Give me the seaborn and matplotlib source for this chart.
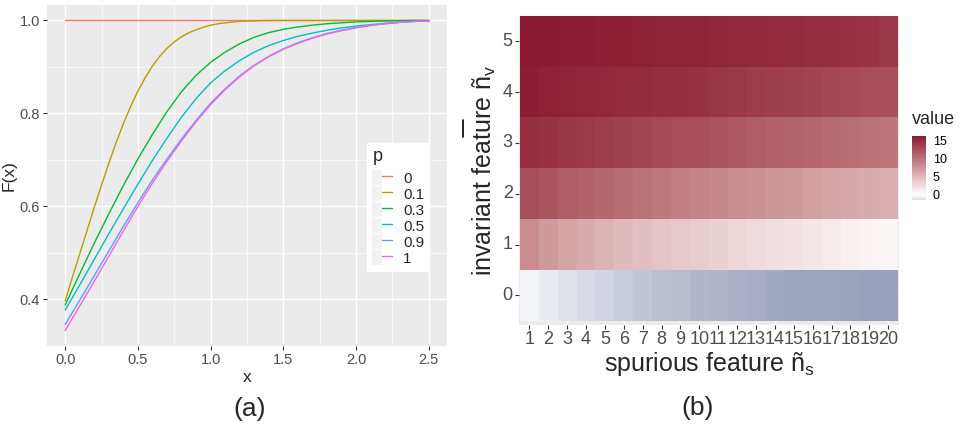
import numpy as np
import pandas as pd
import matplotlib
matplotlib.use("Agg")
import matplotlib.pyplot as plt
import seaborn as sns
from matplotlib.colors import LinearSegmentedColormap
from matplotlib.ticker import MultipleLocator
from matplotlib.lines import Line2D
from matplotlib.patches import Patch
from matplotlib.legend_handler import HandlerTuple

# ------------------------------
# Data: panel (a), F(x) curves for each p
# ------------------------------
x_vals = [0.0, 0.1, 0.2, 0.3, 0.4, 0.5, 0.6, 0.7, 0.8, 0.9, 1.0, 1.1, 1.2,
          1.3, 1.4, 1.5, 1.6, 1.7, 1.8, 1.9, 2.0, 2.1, 2.2, 2.3, 2.4, 2.5]
x_fine = [0.0, 0.05, 0.1, 0.15, 0.2, 0.25, 0.3, 0.35, 0.4, 0.45, 0.5, 0.55,
          0.6, 0.65, 0.7, 0.75, 0.8, 0.85, 0.9, 0.95, 1.0, 1.05, 1.1, 1.15,
          1.2, 1.25, 1.3, 1.35, 1.4, 1.5, 1.75, 2.0, 2.25, 2.5]
p_labels = ["0", "0.1", "0.3", "0.5", "0.9", "1"]
F_p0 = [1.0, 1.0, 1.0, 1.0, 1.0, 1.0, 1.0, 1.0, 1.0, 1.0, 1.0, 1.0, 1.0,
        1.0, 1.0, 1.0, 1.0, 1.0, 1.0, 1.0, 1.0, 1.0, 1.0, 1.0, 1.0, 1.0]
F_p01 = [0.397, 0.448, 0.498, 0.548, 0.598, 0.646, 0.693, 0.737, 0.778, 0.815,
         0.848, 0.877, 0.902, 0.923, 0.940, 0.954, 0.965, 0.9735, 0.980,
         0.9855, 0.990, 0.9928, 0.995, 0.9967, 0.998, 0.9987, 0.999, 0.9996,
         1.0, 1.0, 1.0, 1.0, 1.0, 1.0]
F_p03 = [0.388, 0.455, 0.521, 0.584, 0.645, 0.702, 0.755, 0.804, 0.847, 0.882,
         0.910, 0.932, 0.950, 0.964, 0.974, 0.981, 0.986, 0.990, 0.993, 0.995,
         0.997, 0.998, 0.999, 0.9995, 1.0, 1.0]
F_p05 = [0.377, 0.431, 0.486, 0.541, 0.595, 0.648, 0.699, 0.747, 0.792, 0.832,
         0.866, 0.892, 0.914, 0.932, 0.946, 0.957, 0.966, 0.973, 0.979, 0.984,
         0.988, 0.991, 0.994, 0.996, 0.998, 0.999]
F_p09 = [0.346, 0.398, 0.451, 0.504, 0.557, 0.608, 0.657, 0.702, 0.745, 0.785,
         0.822, 0.853, 0.881, 0.904, 0.923, 0.939, 0.952, 0.963, 0.972, 0.979,
         0.985, 0.990, 0.993, 0.996, 0.998, 0.999]
F_p1 = [0.333, 0.386, 0.439, 0.493, 0.547, 0.600, 0.650, 0.697, 0.741, 0.782,
        0.819, 0.851, 0.879, 0.903, 0.922, 0.938, 0.951, 0.962, 0.971, 0.978,
        0.984, 0.989, 0.993, 0.996, 0.998, 0.999]
line_colors = ["#F8766D", "#B79F00", "#00BA38", "#00BFC4", "#619CFF", "#F564E3"]

# ------------------------------
# Data: panel (b), heatmap values (rows = invariant feature, cols = spurious)
# ------------------------------
spurious = list(range(1, 21))
invariant = [5, 4, 3, 2, 1, 0]
row_v5 = [16.3, 16.2, 16.1, 16.0, 15.9, 15.9, 15.8, 15.7, 15.7, 15.6,
          15.5, 15.4, 15.3, 15.2, 15.0, 14.9, 14.8, 14.6, 14.5, 14.3]
row_v4 = [16.0, 15.8, 15.7, 15.5, 15.4, 15.2, 15.1, 14.9, 14.8, 14.6,
          14.4, 14.2, 14.0, 13.8, 13.6, 13.4, 13.2, 13.0, 12.8, 12.6]
row_v3 = [14.9, 14.6, 14.4, 14.1, 13.8, 13.6, 13.3, 13.0, 12.8, 12.5,
          12.2, 12.0, 11.7, 11.4, 11.1, 10.9, 10.6, 10.4, 10.1, 9.9]
row_v2 = [12.7, 12.2, 11.7, 11.3, 10.9, 10.5, 10.1, 9.7, 9.3, 8.9,
          8.6, 8.2, 7.9, 7.5, 7.2, 6.9, 6.6, 6.3, 6.0, 5.8]
row_v1 = [8.2, 7.2, 6.6, 6.0, 5.5, 5.0, 4.6, 4.3, 4.0, 3.7,
          3.3, 3.0, 2.7, 2.4, 2.1, 1.8, 1.5, 1.2, 0.9, 0.6]
row_v0 = [-0.4, -0.8, -1.2, -1.5, -1.8, -2.1, -2.4, -2.6, -2.8, -3.0,
          -3.1, -3.3, -3.4, -3.6, -3.7, -3.8, -3.8, -3.9, -4.0, -4.0]
cbar_ticks = [0, 5, 10, 15]

# ------------------------------
# Style
# ------------------------------
sns.set_theme(style="darkgrid", rc={"axes.facecolor": "#EBEBEB",
                                    "grid.color": "white"})
plt.rcParams["font.family"] = ["Liberation Sans", "DejaVu Sans"]
plt.rcParams["mathtext.fontset"] = "custom"
plt.rcParams["mathtext.rm"] = "Liberation Sans"
plt.rcParams["mathtext.it"] = "Liberation Sans:italic"

fig = plt.figure(figsize=(9.61, 4.32), dpi=100)
W, H = 961, 432


def px_axes(x0, y0, x1, y1):
    # pixel box (top-left origin) -> figure axes
    return fig.add_axes([x0 / W, 1 - y1 / H, (x1 - x0) / W, (y1 - y0) / H])


# ------------------------------
# Panel (a)
# ------------------------------
ax1 = px_axes(47, 5, 447, 346)
curves = [(x_vals, F_p0), (x_fine, F_p01), (x_vals, F_p03),
          (x_vals, F_p05), (x_vals, F_p09), (x_vals, F_p1)]
parts = []
for lab, (xs, fs) in zip(p_labels, curves):
    parts.append(pd.DataFrame({"x": xs, "F": fs, "p": lab}))
df_lines = pd.concat(parts, ignore_index=True)

sns.lineplot(data=df_lines, x="x", y="F", hue="p", hue_order=p_labels,
             palette=line_colors, estimator=None, sort=False,
             linewidth=1.0, legend=False, ax=ax1)

ax1.set_xlim(-0.125, 2.625)
ax1.set_ylim(0.2997, 1.0333)
ax1.xaxis.set_major_locator(MultipleLocator(0.5))
ax1.xaxis.set_minor_locator(MultipleLocator(0.25))
ax1.yaxis.set_minor_locator(MultipleLocator(0.1))
ax1.set_yticks([0.4, 0.6, 0.8, 1.0])
ax1.grid(which="major", color="white", linewidth=1.0)
ax1.grid(which="minor", color="white", linewidth=0.5)
ax1.tick_params(which="major", bottom=True, left=True, length=3, width=0.8,
                color="#333333", labelsize=10.5, labelcolor="#4D4D4D", pad=2)
ax1.tick_params(which="minor", bottom=False, left=False)
ax1.set_xlabel("x", fontsize=12.5, labelpad=2)
ax1.set_ylabel("F(x)", fontsize=12.5, labelpad=2)
for s in ax1.spines.values():
    s.set_visible(False)

# ggplot-like legend: grey key background behind each line
handles = [(Patch(facecolor="#F2F2F2", edgecolor="none"),
            Line2D([], [], color=c, linewidth=1.0)) for c in line_colors]
leg = ax1.legend(handles, p_labels, title="p", loc="upper left",
                 bbox_to_anchor=(0.80, 0.595), borderaxespad=0,
                 handler_map={tuple: HandlerTuple(ndivide=None, pad=0)},
                 fontsize=11, title_fontsize=13, frameon=True,
                 facecolor="white", edgecolor="white", fancybox=False,
                 framealpha=1.0, handlelength=1.3, handleheight=1.2,
                 handletextpad=0.7, labelspacing=0.0, borderpad=0.35)
leg._legend_box.align = "left"
leg._legend_box.sep = 3

# ------------------------------
# Panel (b)
# ------------------------------
ax2 = px_axes(519, 15.7, 899, 325)
cax = px_axes(912, 136, 926, 200)

df_heat = pd.DataFrame([row_v5, row_v4, row_v3, row_v2, row_v1, row_v0],
                       index=invariant, columns=spurious)

vmin, vmax = -4.0, 16.3
zero = -vmin / (vmax - vmin)
span = 1 - zero
cmap = LinearSegmentedColormap.from_list("ggrad", [
    (0.0, "#9A9FBB"),
    (zero, "#FFFFFF"),
    (zero + 0.25 * span, "#E5C8CA"),
    (zero + 0.50 * span, "#C98D91"),
    (zero + 0.75 * span, "#AA555E"),
    (1.0, "#8A1A33"),
])

sns.heatmap(df_heat, cmap=cmap, vmin=vmin, vmax=vmax, ax=ax2, cbar_ax=cax,
            xticklabels=True, yticklabels=True, linewidths=0,
            cbar_kws={"ticks": cbar_ticks})
ax2.set_facecolor("#EBEBEB")
ax2.set_xlim(-0.05, 20.07)
ax2.set_ylim(6.08, 0.0)
plt.setp(ax2.get_xticklabels(), rotation=0)
plt.setp(ax2.get_yticklabels(), rotation=0)
ax2.tick_params(bottom=True, left=True, length=3, width=0.8, color="#333333",
                labelsize=13, labelcolor="#4D4D4D", pad=1.5)
ax2.set_xlabel("spurious feature ñ$_\\mathrm{s}$", fontsize=18, labelpad=1)
ax2.set_ylabel("invariant feature ñ$_\\mathrm{v}$", fontsize=18, labelpad=3)

cb = ax2.collections[0].colorbar
cb.outline.set_visible(False)
cb.ax.set_ylim(-1.4, 16.3)
cb.ax.yaxis.set_ticks_position("both")
cb.ax.tick_params(direction="in", length=3, width=0.8, color="white",
                  labelsize=9, labelcolor="black", labelleft=False,
                  labelright=True, pad=5)
fig.text(912 / W, 1 - 119 / H, "value", fontsize=13, ha="left", va="center")

# leftover mark from the original layout
fig.add_artist(Line2D([463 / W, 463 / W], [1 - 120 / H, 1 - 137 / H],
                      color="black", linewidth=1.2))

# ------------------------------
# Panel captions
# ------------------------------
fig.text(250 / W, 1 - 409 / H, "(a)", fontsize=19, ha="center", va="center")
fig.text(698 / W, 1 - 408 / H, "(b)", fontsize=19, ha="center", va="center")

fig.savefig("out.png", dpi=100, facecolor="white")
